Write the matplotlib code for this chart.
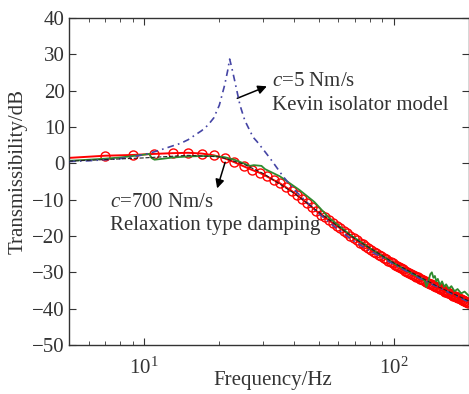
import numpy as np
import matplotlib
matplotlib.use("Agg")
import matplotlib.pyplot as plt

plt.rcParams['font.family'] = ['Liberation Serif', 'DejaVu Serif']
plt.rcParams['mathtext.fontset'] = 'custom'
plt.rcParams['mathtext.rm'] = 'Liberation Serif'
plt.rcParams['mathtext.it'] = 'Liberation Serif:italic'

# relaxation type damping (red circles), every 2 Hz
f_red = np.arange(5, 200, 2)
db_red = [1.5, 2.1, 2.3, 2.6, 2.8, 2.9, 2.7, 2.2, 1.4, 0.3,
          -0.8, -1.8, -2.6, -3.6, -4.6, -5.5, -6.6, -7.6, -8.8, -9.9,
          -11.0, -12.1, -13.2, -14.1, -14.9, -15.7, -16.5, -17.2, -17.9, -18.6,
          -19.3, -20.0, -20.6, -21.2, -21.8, -22.3, -22.8, -23.3, -23.8, -24.3,
          -24.7, -25.2, -25.6, -26.0, -26.4, -26.8, -27.2, -27.5, -27.9, -28.2,
          -28.5, -28.9, -29.2, -29.5, -29.8, -30.1, -30.4, -30.6, -30.9, -31.2,
          -31.4, -31.7, -31.9, -32.2, -32.4, -32.6, -32.9, -33.1, -33.3, -33.5,
          -33.7, -33.9, -34.1, -34.3, -34.5, -34.7, -34.9, -35.1, -35.3, -35.5,
          -35.7, -35.8, -36.0, -36.2, -36.4, -36.5, -36.7, -36.8, -37.0, -37.2,
          -37.3, -37.5, -37.6, -37.8, -37.9, -38.1, -38.2, -38.4]

# measured (green)
f_green = [5, 6, 7, 8, 9, 10, 10.5, 10.7, 11, 12, 13, 15, 17, 19, 21, 23, 25,
           26.5, 27.5, 29.5, 30.5, 35, 42, 48, 55, 67, 80, 100, 120, 130, 133,
           135, 137, 140, 142, 144, 146, 148, 150, 153, 156, 159, 162, 166, 170,
           175, 180, 186, 192, 200]
db_green = [0.7, 1.0, 1.3, 1.6, 2.0, 2.4, 2.6, 1.5, 1.0, 1.3, 1.6, 1.9, 2.0, 2.0,
            1.7, 1.0, 0.0, -0.7, -0.5, -0.7, -1.6, -3.6, -7.4, -10.6, -15.0,
            -19.7, -23.3, -27.5, -30.6, -31.8, -32.3, -34.0, -32.8, -30.5, -30.0,
            -31.5, -31.0, -32.5, -31.8, -33.5, -32.5, -34.0, -33.3, -34.5, -33.8,
            -35.2, -34.6, -35.8, -35.3, -36.5]

# Kelvin model c=5 (blue dash-dot)
f_blue = [5, 6, 7, 8, 9, 10, 11, 12, 13, 14, 15, 16, 17, 18, 19, 20, 21, 21.6,
          22.0, 22.4, 23, 24.2, 25.3, 27.3, 28.3, 30, 32, 34, 36, 38, 40, 45, 50,
          60, 70, 80, 100, 130, 160, 200]
db_blue = [0.5, 0.7, 1.0, 1.3, 1.8, 2.4, 3.2, 4.0, 4.8, 5.5, 6.5, 7.8, 9.0, 10.5,
           12.5, 16.0, 21.5, 25.5, 28.7, 26.5, 23.0, 16.0, 11.8, 7.2, 6.0, 3.8,
           1.3, -1.2, -3.6, -5.5, -7.3, -10.8, -13.8, -18.3, -21.6, -24.0, -27.8,
           -32.0, -35.0, -38.2]

# black dashed curve
f_black = [5, 10, 15, 20, 25, 30, 40, 50, 70, 100, 150, 200]
db_black = [0.6, 1.5, 2.2, 1.8, -0.2, -2.8, -8.3, -13.4, -20.8, -27.4, -33.9, -37.9]

fig = plt.figure(figsize=(4.69, 3.94), dpi=100)
ax = fig.add_axes([69 / 469, 49 / 394, 400 / 469, 327 / 394])

ax.plot(f_red, db_red, '-', color='red', lw=1.4, marker='o', markevery=slice(1, None),
        ms=6.5, mfc='none', mec='red', mew=1.0, zorder=2)
ax.plot(f_green, db_green, '-', color='#2e8b2e', lw=1.3, zorder=3)
ax.plot(f_blue, db_blue, color='#4545a5', lw=1.2, ls=(0, (4, 2.5, 1, 2.5)), zorder=4)
ax.plot(f_black, db_black, '--', color='#222222', lw=0.8, zorder=5)

ax.set_xscale('log')
ax.set_xlim(5, 200)
ax.set_ylim(-50, 40)
ax.set_yticks(np.arange(-50, 41, 10))

tc = '#333333'
fs = 15
for s in ax.spines.values():
    s.set_color(tc)
    s.set_linewidth(1.0)
ax.tick_params(which='both', direction='in', top=True, right=True, colors=tc,
               labelsize=fs, labelcolor=tc)
ax.tick_params(which='major', length=5)
ax.tick_params(which='minor', length=3)
ax.tick_params(axis='y', pad=3)
ax.tick_params(axis='x', which='major', pad=9)

ax.set_xlabel('Frequency/Hz', fontsize=fs, color=tc, va='center')
ax.xaxis.set_label_coords(0.509, -0.110)
ax.set_ylabel('Transmissibility/dB', fontsize=fs, color=tc, va='center')
ax.yaxis.set_label_coords(-0.1275, 0.532)

ax.text(32.5, 21.2, '$c$=5 Nm/s', fontsize=fs, color=tc, ha='left', va='baseline')
ax.text(32.5, 14.6, 'Kevin isolator model', fontsize=fs, color=tc, ha='left', va='baseline')
ax.annotate('', xy=(31.0, 21.2), xytext=(23.6, 17.9),
            arrowprops=dict(arrowstyle='-|>', color='black', lw=1.1,
                            mutation_scale=13, shrinkA=0, shrinkB=0))

ax.text(7.3, -12.0, '$c$=700 Nm/s', fontsize=fs, color=tc, ha='left', va='baseline')
ax.text(7.3, -18.4, 'Relaxation type damping', fontsize=fs, color=tc, ha='left', va='baseline')
ax.annotate('', xy=(19.6, -6.9), xytext=(21.1, 0.3),
            arrowprops=dict(arrowstyle='-|>', color='black', lw=1.1,
                            mutation_scale=13, shrinkA=0, shrinkB=0))

fig.savefig('out.png', dpi=100)
